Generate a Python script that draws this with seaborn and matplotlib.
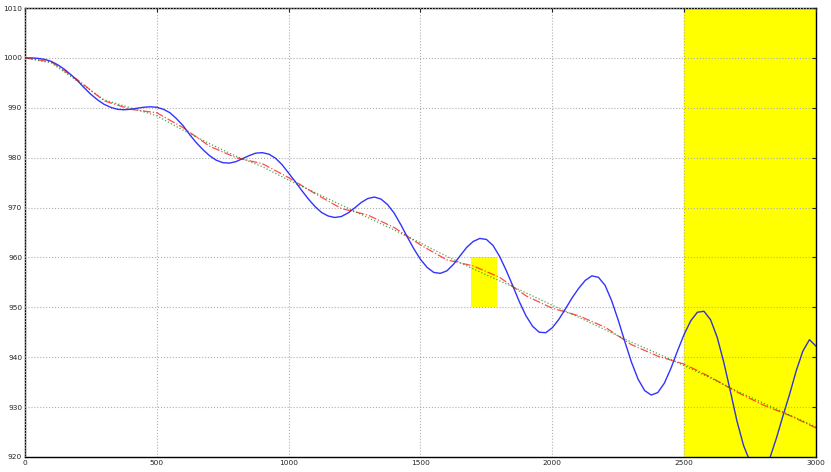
# import libraries
import pandas as pd
import matplotlib
matplotlib.use("Agg")
import matplotlib.pyplot as plt
import seaborn as sns

# blue curve (every 25 units)
blue_x = list(range(0, 3001, 25))
blue_y = [1000.0, 1000.0, 999.9, 999.7, 999.3, 998.6, 997.7, 996.6, 995.4, 994.0,
          992.7, 991.6, 990.7, 990.1, 989.7, 989.6, 989.7, 989.9, 990.1, 990.2,
          990.1, 989.7, 989.0, 987.8, 986.4, 984.6, 983.0, 981.6, 980.4, 979.5,
          979.0, 978.9, 979.2, 979.8, 980.4, 980.9, 981.0, 980.7, 979.9, 978.6,
          976.9, 975.2, 973.4, 971.7, 970.2, 969.0, 968.3, 968.0, 968.2, 968.9,
          969.9, 971.0, 971.8, 972.1, 971.7, 970.6, 968.9, 966.6, 964.1, 961.7,
          959.6, 958.0, 957.0, 956.8, 957.3, 958.6, 960.3, 962.0, 963.2, 963.8,
          963.6, 962.4, 960.2, 957.4, 954.3, 951.1, 948.3, 946.2, 945.0, 944.9,
          945.9, 947.6, 949.7, 951.9, 953.8, 955.4, 956.3, 956.0, 954.4, 951.3,
          947.4, 943.1, 939.0, 935.6, 933.3, 932.4, 932.9, 934.8, 937.8, 941.3,
          944.6, 947.3, 949.0, 949.2, 947.5, 944.0, 939.0, 933.2, 927.2, 922.3,
          919.0, 917.2, 917.3, 919.8, 923.8, 928.3, 932.6, 937.3, 941.2, 943.5,
          942.2]

# smoothed curves
trend_x = list(range(0, 3001, 100))
red_y = [1000.0, 999.2, 995.6, 991.4, 989.7, 989.0, 986.0, 982.3, 980.0, 978.8,
         976.0, 972.8, 969.8, 968.5, 966.0, 962.5, 959.5, 958.3, 956.0, 952.3,
         949.8, 948.3, 946.0, 942.5, 940.2, 938.6, 936.0, 933.0, 930.4, 928.3, 925.8]
green_y = [1000.0, 999.0, 995.3, 991.6, 990.0, 988.4, 985.5, 982.8, 980.3, 978.2,
           975.5, 973.0, 970.5, 968.0, 965.5, 962.9, 960.2, 957.7, 955.3, 952.9,
           950.4, 948.0, 945.5, 943.0, 940.7, 938.3, 935.8, 933.2, 930.8, 928.4, 926.0]

# highlighted regions
span_x = [2500, 3000]
box_x = [1690, 1790]
box_y = [950, 960]

blue_df = pd.DataFrame({"x": blue_x, "y": blue_y})
trend_df = pd.DataFrame({"x": trend_x, "red": red_y, "green": green_y})

sns.set_style("white")
plt.rcParams["font.family"] = ["DejaVu Sans"]

fig = plt.figure(figsize=(8.31, 4.72), dpi=100)
ax = fig.add_axes([0.030, 0.032, 0.952, 0.951])

ax.axvspan(span_x[0], span_x[1], color="#ffff00", zorder=1)
ax.fill_between(box_x, box_y[0], box_y[1], color="#ffff00", lw=0, zorder=1)

sns.lineplot(data=blue_df, x="x", y="y", color="#0000ff", lw=1.0, alpha=0.8,
             ax=ax, zorder=3)
sns.lineplot(data=trend_df, x="x", y="red", color="#ff0000", lw=0.9,
             linestyle="-.", alpha=0.7, ax=ax, zorder=3)
sns.lineplot(data=trend_df, x="x", y="green", color="#008000", lw=0.9,
             linestyle=":", alpha=0.7, ax=ax, zorder=3)

ax.set_xlim(0, 3000)
ax.set_ylim(920, 1010)
ax.set_xticks(range(0, 3001, 500))
ax.set_yticks(range(920, 1011, 10))
ax.set_xlabel("")
ax.set_ylabel("")
ax.grid(True, color="#b0b0b0", linestyle=":", lw=0.8, zorder=2)
ax.set_axisbelow(False)
ax.tick_params(direction="in", labelsize=5.3, length=3, pad=2,
               top=True, right=True)
for sp in ax.spines.values():
    sp.set_color("black")
    sp.set_linewidth(1.0)

plt.savefig("out.png", dpi=100)
plt.close()
